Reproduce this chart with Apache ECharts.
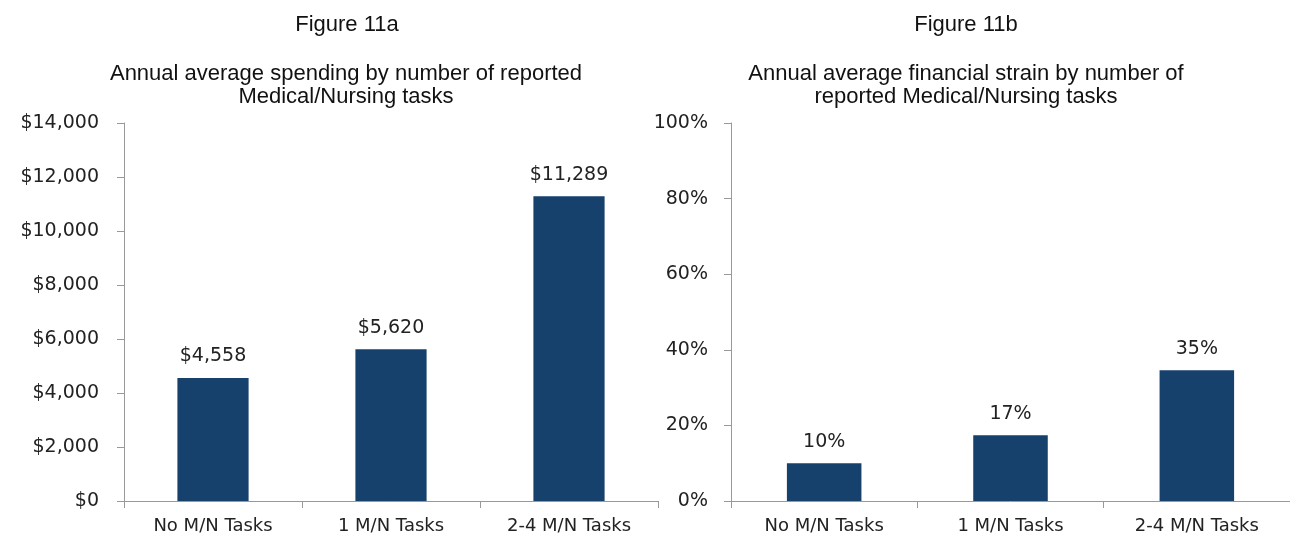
<!DOCTYPE html>
<html>
<head>
<meta charset="utf-8">
<script src="https://cdn.jsdelivr.net/npm/echarts@6/dist/echarts.min.js"></script>
<style>
  html, body { margin: 0; padding: 0; background: #fff; }
  #chart { width: 1290px; height: 540px; }
</style>
</head>
<body>
<div id="chart"></div>
<script>
// categories shared by both panels
var categories = ["No M/N Tasks", "1 M/N Tasks", "2-4 M/N Tasks"];
// Figure 11a: annual average spending ($)
var spending = [4558, 5620, 11289];
// Figure 11b: annual average financial strain (%)
var strain = [10, 17.4, 34.6];

(function () {
  var myChart = echarts.init(document.getElementById("chart"));
  var barColor = "#17416d";
  var axisGray = "#999999";
  var tickFont = "DejaVu Sans";
  var titleFont = "Liberation Sans";

  function xAxis(idx) {
    return {
      type: "category",
      gridIndex: idx,
      data: categories,
      axisLine: { lineStyle: { color: axisGray, width: 1 } },
      axisTick: { show: true, length: 7, lineStyle: { color: axisGray } },
      axisLabel: { color: "#222", fontFamily: tickFont, fontSize: 18, margin: 16 },
    };
  }

  function titleStyle() {
    return { fontFamily: titleFont, fontWeight: "normal", fontSize: 22, lineHeight: 23, color: "#111" };
  }

  var option = {
    animation: false,
    title: [
      { text: "Figure 11a", left: 342, top: 8, textAlign: "center", textStyle: titleStyle() },
      { text: "Annual average spending by number of reported\nMedical/Nursing tasks", left: 341, top: 57,
        textAlign: "center", textStyle: titleStyle() },
      { text: "Figure 11b", left: 961, top: 8, textAlign: "center", textStyle: titleStyle() },
      { text: "Annual average financial strain by number of\nreported Medical/Nursing tasks", left: 961, top: 57,
        textAlign: "center", textStyle: titleStyle() },
    ],
    grid: [
      { left: 124, top: 123, width: 534, height: 378 },
      { left: 731, top: 123, width: 559, height: 378 },
    ],
    xAxis: [xAxis(0), xAxis(1)],
    yAxis: [
      {
        type: "value", gridIndex: 0, min: 0, max: 14000, interval: 2000,
        splitLine: { show: false },
        axisLine: { show: true, lineStyle: { color: axisGray } },
        axisTick: { show: true, length: 7, lineStyle: { color: axisGray } },
        axisLabel: {
          color: "#222", fontFamily: tickFont, fontSize: 19, margin: 25,
          formatter: function (v) { return "$" + v.toLocaleString("en-US"); },
        },
      },
      {
        type: "value", gridIndex: 1, min: 0, max: 100, interval: 20,
        splitLine: { show: false },
        axisLine: { show: true, lineStyle: { color: axisGray } },
        axisTick: { show: true, length: 7, lineStyle: { color: axisGray } },
        axisLabel: {
          color: "#222", fontFamily: tickFont, fontSize: 19, margin: 23,
          formatter: "{value}%",
        },
      },
    ],
    series: [
      {
        type: "bar", xAxisIndex: 0, yAxisIndex: 0, data: spending,
        barWidth: "40%",
        itemStyle: { color: barColor },
        label: {
          show: true, position: "top", distance: 12, color: "#222",
          fontFamily: tickFont, fontSize: 19,
          formatter: function (p) { return "$" + p.value.toLocaleString("en-US"); },
        },
      },
      {
        type: "bar", xAxisIndex: 1, yAxisIndex: 1, data: strain,
        barWidth: "40%",
        itemStyle: { color: barColor },
        label: {
          show: true, position: "top", distance: 12, color: "#222",
          fontFamily: tickFont, fontSize: 19,
          formatter: function (p) { return Math.round(p.value) + "%"; },
        },
      },
    ],
  };
  myChart.setOption(option);
  window.addEventListener("resize", function () {
    myChart.resize();
  });
})();
</script>
</body>
</html>
